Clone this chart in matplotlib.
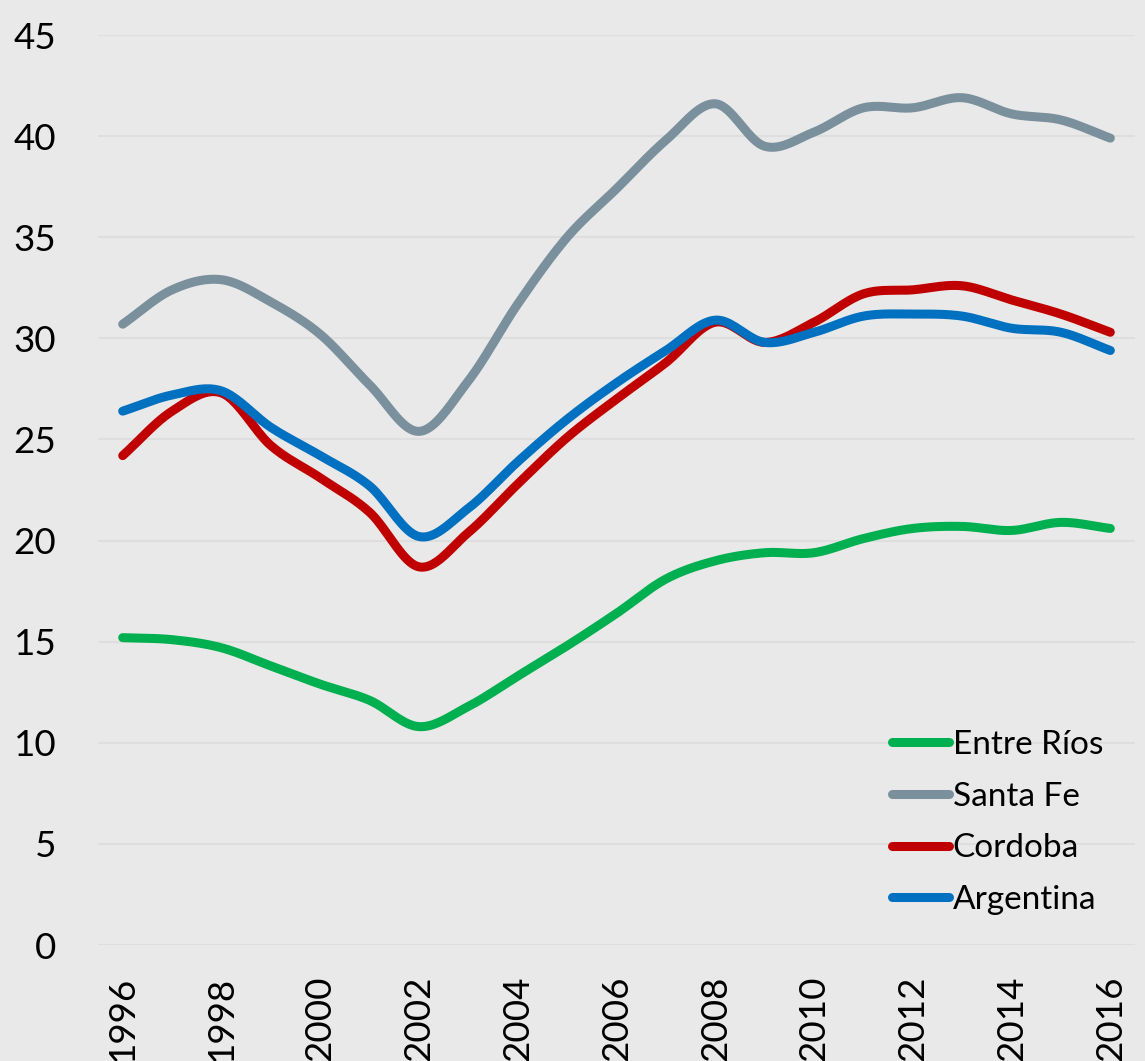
import numpy as np
import matplotlib
matplotlib.use("Agg")
from matplotlib import pyplot as plt

years = list(range(1996, 2017))
entre_rios = [15.2, 15.1, 14.7, 13.8, 12.9, 12.1, 10.8, 11.8, 13.3, 14.8, 16.4,
              18.1, 19.0, 19.4, 19.4, 20.1, 20.6, 20.7, 20.5, 20.9, 20.6]
santa_fe = [30.7, 32.4, 32.9, 31.8, 30.2, 27.7, 25.4, 27.9, 31.7, 35.0, 37.4,
            39.8, 41.6, 39.5, 40.2, 41.4, 41.4, 41.9, 41.1, 40.8, 39.9]
cordoba = [24.2, 26.4, 27.3, 24.7, 23.1, 21.4, 18.7, 20.4, 22.8, 25.1, 27.0,
           28.8, 30.8, 29.8, 30.8, 32.2, 32.4, 32.6, 31.9, 31.2, 30.3]
argentina = [26.4, 27.2, 27.4, 25.6, 24.2, 22.7, 20.2, 21.6, 23.9, 26.0, 27.8,
             29.4, 30.9, 29.8, 30.3, 31.1, 31.2, 31.1, 30.5, 30.3, 29.4]

series = [("Entre Ríos", entre_rios, "#00B050"),
          ("Santa Fe", santa_fe, "#7A909C"),
          ("Cordoba", cordoba, "#C00000"),
          ("Argentina", argentina, "#0070C0")]


def smooth(x, y, n=20):
    # catmull-rom curve through the points (like excel "smoothed line")
    x = np.asarray(x, float)
    y = np.asarray(y, float)
    px = np.concatenate([[2 * x[0] - x[1]], x, [2 * x[-1] - x[-2]]])
    py = np.concatenate([[2 * y[0] - y[1]], y, [2 * y[-1] - y[-2]]])
    xs, ys = [], []
    t = np.linspace(0, 1, n, endpoint=False)
    for i in range(1, len(px) - 2):
        for p, out in ((px, xs), (py, ys)):
            p0, p1, p2, p3 = p[i - 1], p[i], p[i + 1], p[i + 2]
            out.extend(0.5 * (2 * p1 + (-p0 + p2) * t
                              + (2 * p0 - 5 * p1 + 4 * p2 - p3) * t ** 2
                              + (-p0 + 3 * p1 - 3 * p2 + p3) * t ** 3))
    xs.append(x[-1])
    ys.append(y[-1])
    return xs, ys


plt.rcParams['font.family'] = ['Lato', 'DejaVu Sans']

fig = plt.figure(figsize=(11.45, 10.61), dpi=100)
fig.patch.set_facecolor('#e9e9e9')
ax = fig.add_axes([0.0856, 0.1093, 0.9057, 0.8577])
ax.set_facecolor('#e9e9e9')

for name, vals, col in series:
    sx, sy = smooth(years, vals)
    ax.plot(sx, sy, color=col, lw=6.5, label=name, solid_capstyle='round')

ax.set_xlim(1995.5, 2016.5)
ax.set_ylim(0, 45)
ax.set_yticks(range(0, 46, 5))
ax.set_xticks(range(1996, 2017, 2))
ax.set_xticklabels([str(y) for y in range(1996, 2017, 2)], rotation=90)
ax.tick_params(axis='y', length=0, pad=30, labelsize=26.5)
ax.tick_params(axis='x', length=0, pad=22, labelsize=26.5)
ax.grid(axis='y', color='#dedede', lw=1.5)
ax.set_axisbelow(True)
for s in ax.spines.values():
    s.set_visible(False)

leg = ax.legend(loc='lower right', bbox_to_anchor=(0.998, 0.0), frameon=False,
                fontsize=24, handlelength=1.7, handletextpad=0.12,
                labelspacing=0.65)

fig.savefig('out.png', dpi=100, facecolor=fig.get_facecolor())
